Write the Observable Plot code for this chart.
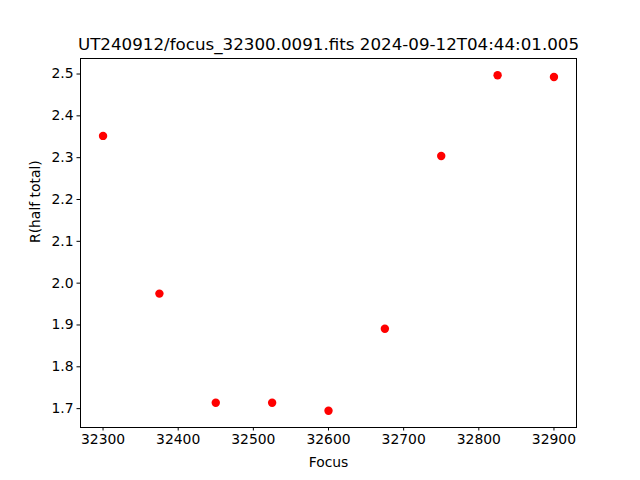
<!DOCTYPE html>
<html><head><meta charset="utf-8">
<script src="https://cdn.jsdelivr.net/npm/d3@7"></script>
<script src="https://cdn.jsdelivr.net/npm/@observablehq/plot@0.6"></script>
<style>body{margin:0;background:#fff} svg{font-family:"DejaVu Sans",sans-serif}</style>
</head><body><div id="chart"></div>
<script>
const focus = [32300, 32375, 32450, 32525, 32600, 32675, 32750, 32825, 32900];
const rHalf = [2.352, 1.975, 1.714, 1.714, 1.695, 1.891, 2.304, 2.497, 2.493];
const xTicks = [32300, 32400, 32500, 32600, 32700, 32800, 32900];
const yTicks = [1.7, 1.8, 1.9, 2.0, 2.1, 2.2, 2.3, 2.4, 2.5];
const title = "UT240912/focus_32300.0091.fits 2024-09-12T04:44:01.005";
const xLabel = "Focus";
const yLabel = "R(half total)";
const data = focus.map((f, i) => ({f, r: rHalf[i]}));
const chart = Plot.plot({
  width: 640, height: 480,
  marginLeft: 80, marginRight: 64, marginTop: 58, marginBottom: 53,
  style: {fontFamily: "DejaVu Sans, sans-serif", fontSize: "13.9px", color: "#000", background: "#fff"},
  x: {domain: [32270, 32930]},
  y: {domain: [1.6549, 2.5371]},
  marks: [
    Plot.axisX({ticks: xTicks, tickSize: 3.5, tickPadding: 3.5, label: null, fontSize: 13.9, tickFormat: d => String(d)}),
    Plot.axisY({ticks: yTicks, tickSize: 3.5, tickPadding: 3.5, label: null, fontSize: 13.9, tickFormat: d3.format(".1f")}),
    Plot.dot(data, {x: "f", y: "r", r: 4.2, fill: "#ff0000", stroke: null}),
    Plot.frame({stroke: "#000", strokeWidth: 1}),
    Plot.text([title], {frameAnchor: "top", dy: -9, lineAnchor: "bottom", fontSize: 16.7, fill: "#000"}),
    Plot.text([xLabel], {frameAnchor: "bottom", dy: 39, fontSize: 13.9, fill: "#000"}),
    Plot.text([yLabel], {frameAnchor: "left", dx: -45, rotate: -90, fontSize: 13.9, fill: "#000"})
  ]
});
document.getElementById("chart").appendChild(chart);
</script></body></html>
